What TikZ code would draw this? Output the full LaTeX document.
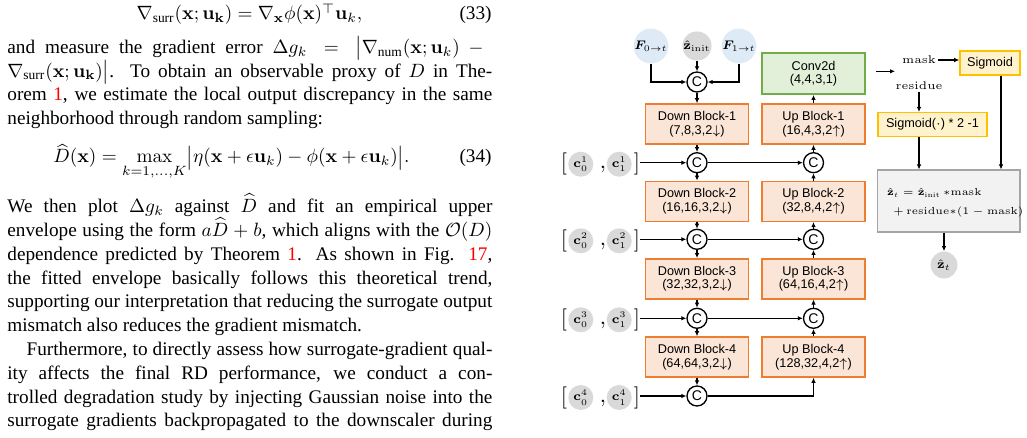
\documentclass[tikz,border=0pt]{standalone}
\usepackage{fix-cm}
\usepackage{amsmath,bm}
\usepackage[no-math]{fontspec}
\setmainfont{Liberation Serif}
\setsansfont{Liberation Sans}
\usetikzlibrary{arrows.meta,calc}
\definecolor{orbd}{HTML}{ED7D31}
\definecolor{orfl}{HTML}{FBE5D6}
\definecolor{grbd}{HTML}{70AD47}
\definecolor{grfl}{HTML}{E2F0D9}
\definecolor{yebd}{HTML}{FFC000}
\definecolor{yefl}{HTML}{FFF2CC}
\definecolor{gybd}{HTML}{A5A5A5}
\definecolor{gyfl}{HTML}{F2F2F2}
\definecolor{blfl}{HTML}{DEEBF7}
\definecolor{cfl}{HTML}{D9D9D9}
\newlength\mycolw
\setlength\mycolw{252.2pt}
\newcommand\jline[1]{\makebox[\mycolw][s]{#1}}
\begin{document}
\begin{tikzpicture}[x=0.52pt,y=-0.52pt,
  txt/.style={anchor=base west,inner sep=0pt,font=\fontsize{10}{12}\selectfont},
  eqn/.style={inner sep=0pt,font=\fontsize{10}{12}\selectfont},
  blk/.style={draw=orbd,fill=orfl,line width=0.8pt,minimum width=53.6pt,minimum height=20.8pt,inner sep=0pt,align=center,font=\sffamily\fontsize{6.6}{7}\selectfont},
  convbox/.style={blk,draw=grbd,fill=grfl,minimum height=21.3pt},
  sigbox/.style={draw=yebd,fill=yefl,line width=0.8pt,inner sep=0pt,font=\sffamily\fontsize{6.6}{7}\selectfont},
  cat/.style={circle,draw,line width=0.7pt,fill=white,minimum size=10.4pt,inner sep=0pt,font=\sffamily\fontsize{7.3}{8}\selectfont},
  flow/.style={circle,fill=blfl,minimum size=13.9pt,inner sep=0pt,font=\fontsize{6.5}{7}\selectfont},
  gcirc/.style={circle,fill=cfl,minimum size=13pt,inner sep=0pt,font=\fontsize{6.5}{7}\selectfont},
  brk/.style={inner sep=0pt,font=\fontsize{11.5}{12}\selectfont},
  lbl/.style={inner sep=1pt,font=\fontsize{5.8}{6.5}\selectfont},
  gtx/.style={anchor=base west,inner sep=0pt,font=\fontsize{5.3}{6}\selectfont},
  arr/.style={line width=0.65pt,-{Latex[length=2.6pt,width=2.4pt]}}]
\useasboundingbox (0,0) rectangle (1027,438);

% ---------------- left column text ----------------
\node[eqn,anchor=base] (eq33) at (249.5,20) {$\nabla_{\text{surr}}(\mathbf{x};\mathbf{u_k}) = \nabla_{\mathbf{x}}\phi(\mathbf{x})^{\top}\mathbf{u}_k,$};
\node[eqn,anchor=base east] (n33) at (492,20) {(33)};
\node[txt] (l1) at (7,53.3) {\jline{and measure the gradient error $\Delta g_k = \bigl|\nabla_{\text{num}}(\mathbf{x};\mathbf{u}_k) -{}$}};
\node[txt] (l2) at (7,77.1) {\jline{$\nabla_{\text{surr}}(\mathbf{x};\mathbf{u_k})\bigr|$. To obtain an observable proxy of $D$ in The-}};
\node[txt] (l3) at (7,100.9) {\jline{orem \textcolor{red}{1}, we estimate the local output discrepancy in the same}};
\node[txt] (l4) at (7,124.7) {neighborhood through random sampling:};
\node[eqn,anchor=base west] (eq34) at (53,163) {$\displaystyle \widehat{D}(\mathbf{x}) = \max_{k=1,\ldots,K}\bigl|\eta(\mathbf{x}+\epsilon\mathbf{u}_k) - \phi(\mathbf{x}+\epsilon\mathbf{u}_k)\bigr|.$};
\node[eqn,anchor=base east] (n34) at (492,163) {(34)};
\node[txt] (l5) at (7,212.7) {\jline{We then plot $\Delta g_k$ against $\widehat{D}$ and fit an empirical upper}};
\node[txt] (l6) at (7,236.5) {\jline{envelope using the form $a\widehat{D}+b$, which aligns with the $\mathcal{O}(D)$}};
\node[txt] (l7) at (7,260.3) {\jline{dependence predicted by Theorem \textcolor{red}{1}. As shown in Fig. \textcolor{red}{17},}};
\node[txt] (l8) at (7,284.1) {\jline{the fitted envelope basically follows this theoretical trend,}};
\node[txt] (l9) at (7,307.9) {\jline{supporting our interpretation that reducing the surrogate output}};
\node[txt] (l10) at (7,331.7) {mismatch also reduces the gradient mismatch.};
\node[txt] (l11) at (7,355.5) {\jline{\hspace*{10pt}Furthermore, to directly assess how surrogate-gradient qual-}};
\node[txt] (l12) at (7,379.3) {\jline{ity affects the final RD performance, we conduct a con-}};
\node[txt] (l13) at (7,403.1) {\jline{trolled degradation study by injecting Gaussian noise into the}};
\node[txt] (l14) at (7,426.9) {\jline{surrogate gradients backpropagated to the downscaler during}};

% ---------------- diagram ----------------
\node[flow] (F0) at (651,46) {$\bm{F}_{0\to t}$};
\node[flow,fill=cfl] (zi) at (697,46) {$\hat{\mathbf{z}}_{\mathrm{init}}$};
\node[flow] (F1) at (739,46) {$\bm{F}_{1\to t}$};

\node[cat] (C0) at (697,82) {C};
\node[blk] (d1) at (697,124) {Down Block-1\\(7,8,3,2$\downarrow$)};
\node[cat] (C1) at (697,162.7) {C};
\node[blk] (d2) at (697,201.3) {Down Block-2\\(16,16,3,2$\downarrow$)};
\node[cat] (C2) at (697,239.3) {C};
\node[blk] (d3) at (697,278.8) {Down Block-3\\(32,32,3,2$\downarrow$)};
\node[cat] (C3) at (697,318.3) {C};
\node[blk] (d4) at (697,357) {Down Block-4\\(64,64,3,2$\downarrow$)};
\node[cat] (C4) at (697,396) {C};

\node[convbox] (conv) at (813.5,73.7) {Conv2d\\(4,4,3,1)};
\node[blk] (u1) at (813.5,124) {Up Block-1\\(16,4,3,2$\uparrow$)};
\node[cat] (U1) at (813.5,162.7) {C};
\node[blk] (u2) at (813.5,201.3) {Up Block-2\\(32,8,4,2$\uparrow$)};
\node[cat] (U2) at (813.5,239.3) {C};
\node[blk] (u3) at (813.5,278.8) {Up Block-3\\(64,16,4,2$\uparrow$)};
\node[cat] (U3) at (813.5,318.3) {C};
\node[blk] (u4) at (813.5,357) {Up Block-4\\(128,32,4,2$\uparrow$)};

% condition groups
\foreach \k/\yy in {1/162.7,2/239.3,3/318.3,4/396}{
  \node[brk] (lb\k) at (564,\yy+1.5) {$\mathbf{[}$};
  \node[gcirc] (ca\k) at (580.8,\yy+1.5) {$\mathbf{c}_0^{\k}$};
  \node[brk,anchor=base] (cm\k) at (603,\yy+6) {$\mathbf{,}$};
  \node[gcirc] (cb\k) at (619.2,\yy+1.5) {$\mathbf{c}_1^{\k}$};
  \node[brk] (rb\k) at (637,\yy+1.5) {$\mathbf{]}$};
  \draw[arr] (rb\k.east |- C\k.west) -- (C\k.west);
}

% output head
\node[lbl] (mask) at (919,60) {$\mathrm{mask}$};
\node[lbl] (res) at (919,86) {$\mathrm{residue}$};
\node[sigbox,minimum width=31.2pt,minimum height=12.6pt] (sig) at (990,62.9) {Sigmoid};
\node[sigbox,minimum width=56.7pt,minimum height=12.5pt] (sig2) at (932.5,124.7) {Sigmoid($\cdot$) * 2 -1};
\node[draw=gybd,fill=gyfl,line width=0.6pt,minimum width=74pt,minimum height=32.2pt,inner sep=0pt] (gray) at (948.8,201) {};
\node[gtx] (g1) at (886.7,195.5) {$\hat{\mathbf{z}}_t = \hat{\mathbf{z}}_{\mathrm{init}}\,{\ast}\mathrm{mask}$};
\node[gtx] (g2) at (893,214.5) {$+\,\mathrm{residue}{\ast}(1-\mathrm{mask})$};
\node[gcirc,minimum size=14pt] (zt) at (944,265) {$\hat{\mathbf{z}}_t$};
\coordinate (maskpt) at (895,71.3);
\coordinate (sigout) at (1001,75);

% connectors: encoder
\draw[arr] (F0.south) |- (C0.west);
\draw[arr] (F1.south) |- (C0.east);
\draw[arr] (zi.south) -- (C0.north);
\draw[arr] (C0) -- (d1);
\draw[arr] (d1) -- (C1);
\draw[arr] (C1) -- (d2);
\draw[arr] (d2) -- (C2);
\draw[arr] (C2) -- (d3);
\draw[arr] (d3) -- (C3);
\draw[arr] (C3) -- (d4);
\draw[arr] (d4) -- (C4);
% skips
\draw[arr] (C1) -- (U1);
\draw[arr] (C2) -- (U2);
\draw[arr] (C3) -- (U3);
\draw[arr] (C4.east) -| (u4.south);
% decoder
\draw[arr] (u4) -- (U3);
\draw[arr] (U3) -- (u3);
\draw[arr] (u3) -- (U2);
\draw[arr] (U2) -- (u2);
\draw[arr] (u2) -- (U1);
\draw[arr] (U1) -- (u1);
\draw[arr] (u1) -- (conv);
% head
\draw[arr,shorten <=5.2pt] (conv.east |- maskpt) -- (maskpt);
\draw[arr] (mask.east) -- (mask.east -| sig.west);
\draw[arr] (res.south) -- (res.south |- sig2.north);
\draw[arr] (res.south |- sig2.south) -- (res.south |- gray.north);
\draw[arr] (sigout |- sig.south) -- (sigout |- gray.north);
\draw[arr] (zt.north |- gray.south) -- (zt.north);
\end{tikzpicture}
\end{document}
